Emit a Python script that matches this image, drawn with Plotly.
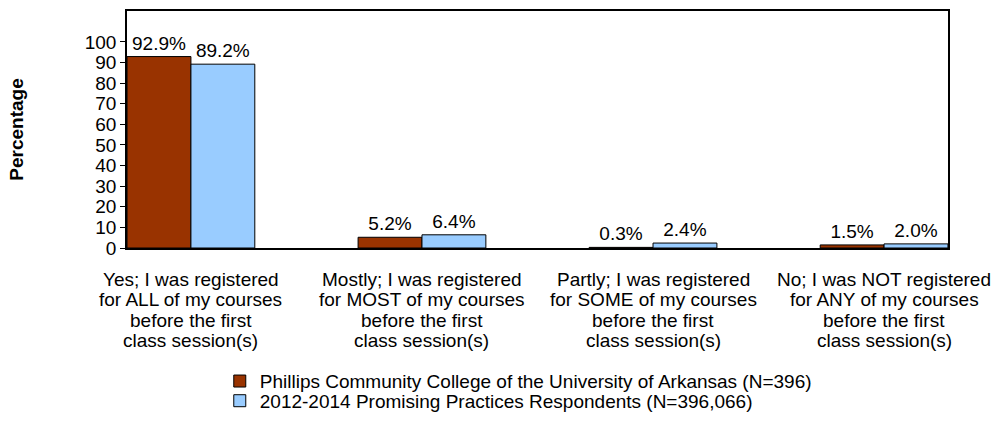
import plotly.graph_objects as go

categories = [
    "Yes; I was registered<br>for ALL of my courses<br>before the first<br>class session(s)",
    "Mostly; I was registered<br>for MOST of my courses<br>before the first<br>class session(s)",
    "Partly; I was registered<br>for SOME of my courses<br>before the first<br>class session(s)",
    "No; I was NOT registered<br>for ANY of my courses<br>before the first<br>class session(s)",
]
series_names = [
    "Phillips Community College of the University of Arkansas (N=396)",
    "2012-2014 Promising Practices Respondents (N=396,066)",
]
college = [92.9, 5.2, 0.3, 1.5]
national = [89.2, 6.4, 2.4, 2.0]
colors = ["#993300", "#99CCFF"]
ytick_vals = list(range(0, 101, 10))

FONT = "Arial, Liberation Sans, sans-serif"
FS = 19

fig = go.Figure()
for k, (name, vals, col) in enumerate(zip(series_names, [college, national], colors)):
    fig.add_trace(go.Bar(
        x=categories, y=vals, name=name,
        legend="legend" if k == 0 else "legend2",
        marker=dict(color=col, line=dict(color="black", width=1)),
        text=[f"{v:.1f}%" for v in vals],
        textposition="outside", cliponaxis=False,
        textfont=dict(family=FONT, size=FS, color="black"),
    ))

# category labels with tight line spacing
for cat in categories:
    for i, line in enumerate(cat.split("<br>")):
        fig.add_annotation(
            x=cat, xref="x", y=0, yref="paper", yanchor="top",
            yshift=-19 - i * 20.4, text=line, showarrow=False,
            font=dict(family=FONT, size=FS, color="black"),
        )

legend_common = dict(xanchor="left", yanchor="middle",
                     font=dict(family=FONT, size=FS, color="black"),
                     bgcolor="rgba(0,0,0,0)")
fig.update_layout(
    width=994, height=430,
    margin=dict(l=127, r=46, t=9, b=172),
    paper_bgcolor="white", plot_bgcolor="white",
    barmode="group", bargap=0.447, bargroupgap=0,
    font=dict(family=FONT, size=FS, color="black"),
    showlegend=True,
    legend=dict(x=0.113, y=-0.562, **legend_common),
    legend2=dict(x=0.113, y=-0.645, **legend_common),
)
fig.update_xaxes(
    type="category", range=[-0.2767, 3.2767],
    showline=True, linecolor="black", linewidth=1.5, mirror=True,
    ticks="", showgrid=False, showticklabels=False,
)
fig.update_yaxes(
    range=[0, 115], tickvals=ytick_vals,
    showline=True, linecolor="black", linewidth=1.5, mirror=True,
    ticks="outside", ticklen=5, tickcolor="black", showgrid=False,
    zeroline=False, tickfont=dict(size=FS),
    title=dict(text="<b>Percentage</b>", standoff=56, font=dict(size=FS)),
)

fig.write_html("out.html", config={"displayModeBar": False},
               post_script="document.body.style.margin='0';")
